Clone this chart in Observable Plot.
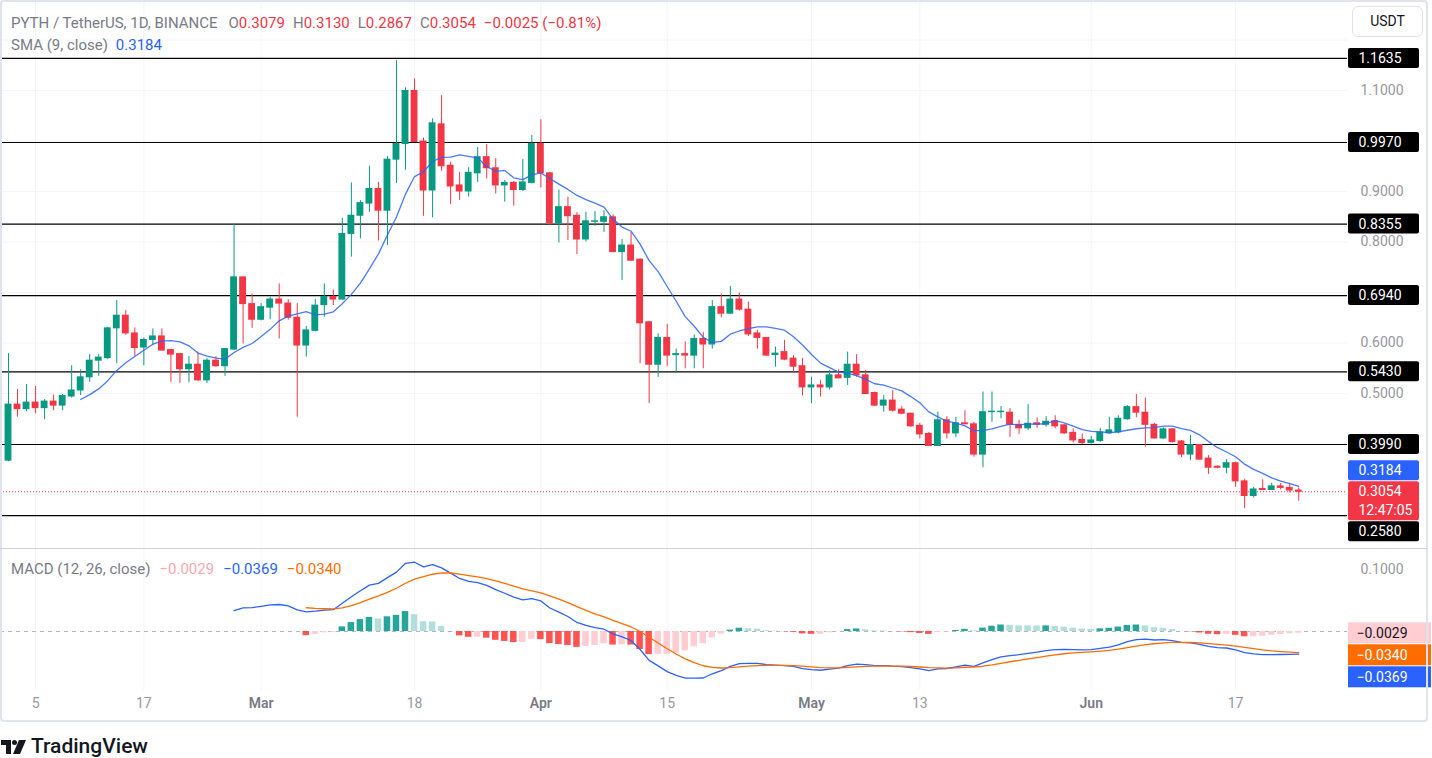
<!DOCTYPE html>
<html><head><meta charset="utf-8">
<script src="https://cdn.jsdelivr.net/npm/d3@7"></script>
<script src="https://cdn.jsdelivr.net/npm/@observablehq/plot@0.6"></script>
<style>
body{margin:0;background:#fff;font-family:Roboto,"Noto Sans",sans-serif;}
#wrap{position:relative;width:1432px;height:758px;overflow:hidden;background:#fff;}
.leg{position:absolute;left:11px;font-size:15px;line-height:18px;color:#787b86;white-space:nowrap;z-index:5;}
.red{color:#f23645}
.blue{color:#2962ff}
.gap{display:inline-block;width:11px}
.gs{display:inline-block;width:8px}
.gm{display:inline-block;width:9px}
</style></head><body>
<div id="wrap"></div>
<script>
// ---------- data ----------
const startDate = "2024-02-02";
const openP  = [0.367,0.478,0.469,0.482,0.471,0.484,0.476,0.494,0.506,0.532,0.565,0.570,0.629,0.654,0.619,0.591,0.606,0.613,0.586,0.578,0.548,0.557,0.526,0.565,0.554,0.587,0.730,0.677,0.646,0.670,0.686,0.678,0.650,0.595,0.624,0.675,0.691,0.686,0.816,0.852,0.876,0.905,0.862,0.963,0.994,1.099,0.999,0.902,1.033,0.951,0.912,0.900,0.936,0.968,0.946,0.912,0.917,0.903,0.917,0.994,0.936,0.837,0.869,0.852,0.805,0.840,0.840,0.849,0.780,0.793,0.765,0.641,0.557,0.610,0.576,0.578,0.575,0.608,0.597,0.671,0.658,0.686,0.666,0.619,0.610,0.576,0.582,0.569,0.554,0.512,0.516,0.512,0.536,0.531,0.557,0.536,0.501,0.476,0.486,0.468,0.460,0.436,0.420,0.396,0.447,0.421,0.441,0.439,0.379,0.463,0.463,0.462,0.438,0.431,0.441,0.438,0.445,0.437,0.422,0.408,0.402,0.406,0.421,0.423,0.449,0.473,0.462,0.438,0.411,0.429,0.405,0.379,0.398,0.371,0.355,0.353,0.362,0.326,0.297,0.311,0.309,0.316,0.313,0.3079];
const highP  = [0.579,0.508,0.518,0.514,0.488,0.497,0.498,0.555,0.547,0.577,0.577,0.631,0.684,0.664,0.630,0.610,0.628,0.628,0.587,0.579,0.573,0.582,0.569,0.573,0.589,0.835,0.730,0.697,0.678,0.691,0.717,0.686,0.678,0.633,0.686,0.717,0.705,0.847,0.917,0.882,0.950,0.918,0.969,1.159,1.105,1.123,1.006,1.044,1.090,0.958,0.938,0.947,0.987,0.993,0.965,0.922,0.920,0.963,1.011,1.042,0.938,0.903,0.889,0.858,0.859,0.860,0.862,0.854,0.805,0.819,0.767,0.643,0.618,0.637,0.588,0.602,0.616,0.621,0.684,0.697,0.712,0.699,0.681,0.625,0.610,0.592,0.605,0.575,0.569,0.532,0.526,0.546,0.547,0.582,0.577,0.546,0.503,0.496,0.506,0.474,0.461,0.441,0.423,0.463,0.454,0.453,0.466,0.443,0.503,0.503,0.474,0.470,0.447,0.478,0.452,0.454,0.456,0.438,0.430,0.420,0.415,0.431,0.453,0.456,0.476,0.498,0.491,0.441,0.432,0.430,0.407,0.417,0.398,0.377,0.357,0.369,0.364,0.330,0.314,0.329,0.322,0.322,0.322,0.3130];
const lowP   = [0.365,0.453,0.464,0.460,0.448,0.466,0.466,0.491,0.496,0.522,0.534,0.567,0.559,0.615,0.573,0.555,0.595,0.584,0.522,0.520,0.521,0.524,0.520,0.552,0.534,0.585,0.598,0.629,0.644,0.646,0.608,0.645,0.453,0.572,0.622,0.651,0.674,0.685,0.770,0.806,0.859,0.802,0.793,0.916,0.942,0.998,0.851,0.848,0.940,0.874,0.882,0.889,0.918,0.925,0.895,0.879,0.871,0.900,0.915,0.907,0.833,0.798,0.803,0.775,0.800,0.831,0.819,0.779,0.724,0.762,0.559,0.480,0.532,0.553,0.540,0.549,0.549,0.549,0.588,0.650,0.657,0.663,0.613,0.588,0.574,0.552,0.565,0.540,0.495,0.480,0.493,0.507,0.529,0.516,0.532,0.498,0.474,0.463,0.463,0.458,0.433,0.410,0.396,0.396,0.410,0.413,0.438,0.374,0.353,0.443,0.450,0.413,0.419,0.427,0.431,0.433,0.430,0.419,0.402,0.399,0.400,0.403,0.419,0.420,0.447,0.452,0.394,0.410,0.409,0.402,0.373,0.367,0.369,0.340,0.351,0.341,0.314,0.272,0.293,0.308,0.308,0.309,0.303,0.2867];
const closeP = [0.478,0.469,0.482,0.471,0.484,0.476,0.495,0.506,0.532,0.565,0.571,0.629,0.654,0.619,0.590,0.606,0.613,0.585,0.577,0.548,0.557,0.526,0.565,0.554,0.588,0.730,0.677,0.646,0.671,0.686,0.678,0.650,0.595,0.625,0.674,0.691,0.686,0.816,0.852,0.877,0.905,0.862,0.963,0.994,1.099,0.998,0.902,1.035,0.950,0.910,0.900,0.937,0.968,0.946,0.912,0.917,0.903,0.918,0.994,0.936,0.837,0.869,0.851,0.805,0.841,0.841,0.849,0.780,0.793,0.763,0.639,0.557,0.610,0.575,0.578,0.575,0.608,0.597,0.671,0.658,0.686,0.666,0.617,0.610,0.575,0.579,0.567,0.553,0.512,0.516,0.512,0.536,0.530,0.557,0.536,0.499,0.476,0.486,0.466,0.460,0.435,0.419,0.396,0.447,0.421,0.441,0.439,0.379,0.463,0.464,0.464,0.438,0.431,0.440,0.438,0.444,0.435,0.421,0.407,0.402,0.407,0.423,0.427,0.450,0.473,0.462,0.438,0.411,0.429,0.404,0.379,0.398,0.369,0.353,0.353,0.362,0.326,0.297,0.310,0.309,0.316,0.313,0.3079,0.3054];

const levels = [1.1635,0.9970,0.8355,0.6940,0.5430,0.3990,0.2580];
const priceTicks = [1.1,0.9,0.8,0.6,0.5];
const priceGrid = [0.3,0.4,0.5,0.6,0.7,0.8,0.9,1.0,1.1,1.2];
const macdTicks = [0.1];
const tickDates = ["2024-02-05","2024-02-17","2024-03-01","2024-03-18","2024-04-01","2024-04-15","2024-05-01","2024-05-13","2024-06-01","2024-06-17"];
const tickLabels = ["5","17","Mar","18","Apr","15","May","13","Jun","17"];
const tickIsMonth = [false,false,true,false,true,false,true,false,true,false];
const smaLast = 0.3184;
const changeText = "\u22120.0025 (\u22120.81%)";
const macdLegend = {hist:-0.0029, macd:-0.0369, signal:-0.0340};
const countdown = "12:47:05";

// ---------- helpers ----------
const GREEN="#089981", RED="#f23645";
const FONT = "Roboto, sans-serif";
const dayIdx = s => Math.round((Date.parse(s)-Date.parse(startDate))/864e5);
const candles = openP.map((o,i)=>({i, open:o, high:highP[i], low:lowP[i], close:closeP[i]}));
const ticks = tickDates.map((s,k)=>({i:dayIdx(s), label:tickLabels[k], month:tickIsMonth[k]}));
const xDomain = [-0.887, 148.4];
const W = 1432, AXW = 85, PW = W-AXW;
const PH = 547;
const priceDomain = [0.19307, 1.27624];
const MH = 141, MB = 32;
const macdDomain = [-0.0952, 0.1323];

function ema(src, n){
  const out = new Array(src.length).fill(NaN);
  const start = src.findIndex(v=>!isNaN(v));
  if (start < 0 || start+n > src.length) return out;
  let s = 0; for (let k=start;k<start+n;k++) s+=src[k];
  let e = s/n; out[start+n-1] = e;
  const a = 2/(n+1);
  for (let k=start+n;k<src.length;k++){ e = a*src[k]+(1-a)*e; out[k]=e; }
  return out;
}
const e12 = ema(closeP,12), e26 = ema(closeP,26);
const macd = closeP.map((_,i)=>e12[i]-e26[i]);
const signal = ema(macd,9);
const macdRows = macd.map((v,i)=>({i, v})).filter(d=>!isNaN(d.v));
const sigRows = signal.map((v,i)=>({i, v})).filter(d=>!isNaN(d.v));
const histRows = [];
signal.forEach((s,i)=>{ if(!isNaN(s)){ const h = macd[i]-s; const p = histRows.length? histRows[histRows.length-1].h : NaN;
  const c = h>=0 ? (p<h ? "#26a69a" : "#b2dfdb") : (p<h ? "#ffcdd2" : "#ff5252");
  histRows.push({i, h, c}); }});

const wrap = document.getElementById("wrap");
function place(node, left, top, z){ node.style.position="absolute"; node.style.left=left+"px"; node.style.top=top+"px"; node.style.zIndex=z||1; wrap.appendChild(node); return node;}

// ---------- price pane ----------
const candleColor = d => d.close >= d.open ? GREEN : RED;
const price = Plot.plot({
  width: PW, height: PH, margin: 0,
  style:{background:"transparent", overflow:"visible"},
  x:{domain:xDomain, axis:null},
  y:{domain:priceDomain, axis:null},
  color:{type:"identity"},
  marks:[
    Plot.ruleX(ticks, {x:"i", stroke:"#f3f4f7"}),
    Plot.ruleY(priceGrid, {stroke:"#f3f4f7"}),
    Plot.ruleY(levels, {stroke:"#000", strokeWidth:1.2}),
    Plot.ruleY([closeP[closeP.length-1]], {stroke:RED, strokeDasharray:"1,2", strokeWidth:1}),
    Plot.ruleX(candles, {x:"i", y1:"low", y2:"high", stroke:candleColor, strokeWidth:1}),
    Plot.rect(candles, {x1:d=>d.i-0.38, x2:d=>d.i+0.38, y1:"open", y2:"close", fill:candleColor, insetTop:-0.5, insetBottom:-0.5}),
    Plot.lineY(candles, Plot.windowY({k:9, anchor:"end", strict:true, reduce:"mean"}, {x:"i", y:"close", stroke:"#2962ff", strokeWidth:1.3, strokeOpacity:0.85}))
  ]
});
place(price, 0, 1, 1);

// label layout (avoid overlaps like the price scale does)
function layoutLabels(items, ys, lineH){
  items.forEach(d=>{ d.h = lineH + (lineH-1)*(d.lines.length-1); d.top = ys(d.v) - lineH/2; });
  items.sort((a,b)=>a.top-b.top);
  let fi = items.findIndex(d=>d.fixed); if (fi<0) fi = 0;
  for (let k=fi+1;k<items.length;k++){ const p=items[k-1]; items[k].top = Math.max(items[k].top, p.top+p.h+1); }
  for (let k=fi-1;k>=0;k--){ const n=items[k+1]; items[k].top = Math.min(items[k].top, n.top-items[k].h-1); }
  const rects = [], texts = [];
  items.forEach(d=>{
    rects.push({y1: ys.invert(d.top), y2: ys.invert(d.top+d.h), bg:d.bg});
    d.lines.forEach((t,j)=>texts.push({y: ys.invert(d.top + lineH/2 + (lineH-1)*j), t, fg:d.fg}));
  });
  return {rects, texts};
}
const ysP = d3.scaleLinear().domain(priceDomain).range([PH,0]);
const lastClose = closeP[closeP.length-1];
const pItems = [
  ...levels.map(v=>({v, lines:[v.toFixed(4)], bg:"#000000", fg:"#ffffff"})),
  {v:smaLast, lines:[smaLast.toFixed(4)], bg:"#2962ff", fg:"#ffffff"},
  {v:lastClose, lines:[lastClose.toFixed(4), countdown], bg:RED, fg:"#ffffff", fixed:true}
];
const pl = layoutLabels(pItems, ysP, 20);
const priceAxis = Plot.plot({
  width: AXW, height: PH, margin: 0,
  style:{background:"transparent", overflow:"visible", fontFamily:FONT},
  x:{domain:[0,1], axis:null},
  y:{domain:priceDomain, axis:null},
  color:{type:"identity"},
  marks:[
    Plot.text(priceTicks, {y:d=>d, text:d=>d.toFixed(4), frameAnchor:"left", dx:13, textAnchor:"start", fill:"#9598a1", fontSize:14}),
    Plot.rect(pl.rects, {x1:0, x2:1, y1:"y1", y2:"y2", fill:"bg", insetLeft:1, insetRight:13, rx:2}),
    Plot.text(pl.texts, {y:"y", text:"t", fill:"fg", frameAnchor:"left", dx:11, textAnchor:"start", fontSize:14})
  ]
});
place(priceAxis, PW, 1, 2);

// ---------- MACD pane ----------
const macdPlot = Plot.plot({
  width: PW, height: MH+MB, marginTop:0, marginLeft:0, marginRight:0, marginBottom:MB,
  style:{background:"transparent", overflow:"visible", fontFamily:FONT},
  x:{domain:xDomain, axis:null},
  y:{domain:macdDomain, axis:null},
  color:{type:"identity"},
  marks:[
    Plot.ruleX(ticks, {x:"i", y1:macdDomain[0], y2:macdDomain[1], stroke:"#f3f4f7"}),
    Plot.ruleY([0], {stroke:"#b2b5be", strokeDasharray:"4,4"}),
    Plot.rect(histRows, {x1:d=>d.i-0.36, x2:d=>d.i+0.36, y1:0, y2:"h", fill:"c"}),
    Plot.line(macdRows, {x:"i", y:"v", stroke:"#2962ff", strokeWidth:1.3}),
    Plot.line(sigRows, {x:"i", y:"v", stroke:"#ff6d00", strokeWidth:1.3}),
    Plot.text(ticks.filter(d=>!d.month), {x:"i", text:"label", frameAnchor:"bottom", dy:17, fill:"#9598a1", fontSize:14}),
    Plot.text(ticks.filter(d=>d.month), {x:"i", text:"label", frameAnchor:"bottom", dy:17, fill:"#787b86", fontSize:14, fontWeight:600})
  ]
});
place(macdPlot, 0, 549, 1);

const fmt = v => v.toFixed(4).replace("-","\u2212");
const ysM = d3.scaleLinear().domain(macdDomain).range([MH,0]);
const mItems = [
  {v:macdLegend.hist, lines:[fmt(macdLegend.hist)], bg:"#ffcdd2", fg:"#131722", fixed:true},
  {v:macdLegend.signal, lines:[fmt(macdLegend.signal)], bg:"#ff6d00", fg:"#ffffff"},
  {v:macdLegend.macd, lines:[fmt(macdLegend.macd)], bg:"#2962ff", fg:"#ffffff"}
];
const ml = layoutLabels(mItems, ysM, 21);
const macdAxis = Plot.plot({
  width: AXW, height: MH, margin:0,
  style:{background:"transparent", overflow:"visible", fontFamily:FONT},
  x:{domain:[0,1], axis:null},
  y:{domain:macdDomain, axis:null},
  color:{type:"identity"},
  marks:[
    Plot.text(macdTicks, {y:d=>d, text:d=>d.toFixed(4), frameAnchor:"left", dx:13, textAnchor:"start", fill:"#9598a1", fontSize:14}),
    Plot.rect(ml.rects, {x1:0, x2:1, y1:"y1", y2:"y2", fill:"bg", insetLeft:1, insetRight:1}),
    Plot.text(ml.texts, {y:"y", text:"t", fill:"fg", frameAnchor:"left", dx:9, textAnchor:"start", fontSize:14})
  ]
});
place(macdAxis, PW, 549, 2);

// ---------- frame, separators, legends ----------
const frame = document.createElement("div");
frame.style.cssText="width:1428px;height:722px;box-sizing:border-box;border:2px solid #e0e3eb;border-radius:4px;pointer-events:none;";
place(frame, 0, 0, 6);
const sep = document.createElement("div");
sep.style.cssText="width:1428px;height:1px;background:#cfd2da;";
place(sep, 0, 548, 6);

const leg1 = document.createElement("div"); leg1.className="leg";
leg1.innerHTML = `PYTH / TetherUS, 1D, BINANCE<span class="gap"></span>O<span class="red">${fmt(openP[openP.length-1])}</span><span class="gs"></span>H<span class="red">${fmt(highP[highP.length-1])}</span><span class="gs"></span>L<span class="red">${fmt(lowP[lowP.length-1])}</span><span class="gs"></span>C<span class="red">${fmt(lastClose)}</span><span class="gs"></span><span class="red">${changeText}</span>`;
place(leg1, 11, 14, 5);
const leg2 = document.createElement("div"); leg2.className="leg";
leg2.innerHTML = `SMA (9, close)<span class="gs"></span><span class="blue">${smaLast.toFixed(4)}</span>`;
place(leg2, 11, 36, 5);
const leg3 = document.createElement("div"); leg3.className="leg";
leg3.innerHTML = `MACD (12, 26, close)<span class="gm"></span><span style="color:#f7a9b0">${fmt(macdLegend.hist)}</span><span class="gm"></span><span class="blue">${fmt(macdLegend.macd)}</span><span class="gm"></span><span style="color:#ff6d00">${fmt(macdLegend.signal)}</span>`;
place(leg3, 11, 560, 5);

const usdt = document.createElement("div");
usdt.style.cssText="width:71px;height:31px;box-sizing:border-box;border:1px solid #e0e3eb;border-radius:6px;font-size:14px;line-height:29px;text-align:center;color:#131722;background:#fff;";
usdt.textContent="USDT";
place(usdt, 1352, 6, 7);

const logo = document.createElement("div");
logo.innerHTML = `<svg width="26" height="16" viewBox="0 0 26 16"><path d="M0 1H10V15H5V6H0Z" fill="#131722"/><circle cx="13.5" cy="3.5" r="2.5" fill="#131722"/><path d="M18 1H25L19 15H12Z" fill="#131722"/></svg><span style="position:absolute;left:30px;top:-5px;font-size:21px;font-weight:500;color:#131722;white-space:nowrap;">TradingView</span>`;
logo.style.cssText="width:180px;height:18px;";
place(logo, 1, 739, 5);
</script>
</body></html>
